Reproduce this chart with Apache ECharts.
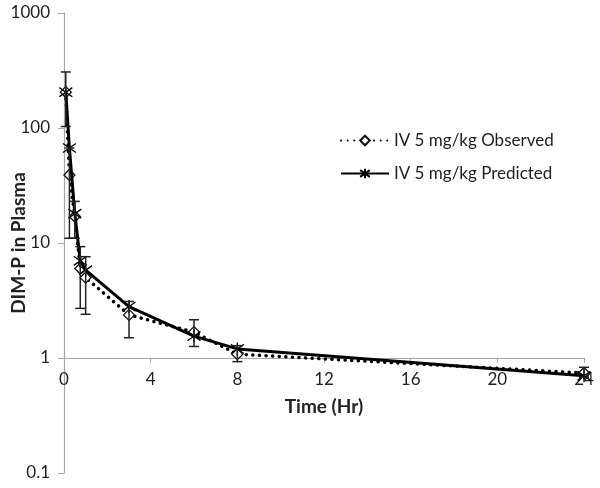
<!DOCTYPE html>
<html>
<head>
<meta charset="utf-8">
<script src="https://cdn.jsdelivr.net/npm/echarts@6/dist/echarts.min.js"></script>
<style>
html,body{margin:0;padding:0;background:#fff;}
#c{width:600px;height:488px;}
</style>
</head>
<body>
<div id="c"></div>
<script>
// Data
var times = [0.083, 0.25, 0.5, 0.75, 1, 3, 6, 8, 24];
var observed = [205, 39, 17, 6.0, 5.0, 2.37, 1.68, 1.08, 0.74];
var predicted = [205, 67, 18, 7.0, 5.8, 2.8, 1.55, 1.2, 0.70];
var obsLow  = [103, 11, 11, 2.7, 2.4, 1.5, 1.26, 0.93, 0.68];
var obsHigh = [307, 67, 23, 9.3, 7.6, 3.1, 2.15, 1.28, 0.83];
var yTicks = [0.1, 1, 10, 100, 1000];
var xTicks = [0, 4, 8, 12, 16, 20, 24];
var seriesNames = ['IV 5 mg/kg Observed', 'IV 5 mg/kg Predicted'];

var font = 'Lato, "Liberation Sans", sans-serif';
var obsData = times.map(function (t, i) { return [t, observed[i]]; });
var predData = times.map(function (t, i) { return [t, predicted[i]]; });
var errData = times.map(function (t, i) { return [t, obsLow[i], obsHigh[i]]; });

var starPath = 'path://M10 0 L10 20 M3 3 L17 17 M3 17 L17 3';

var chart = echarts.init(document.getElementById('c'), null, {renderer: 'canvas'});
chart.setOption({
  animation: false,
  backgroundColor: '#fff',
  textStyle: {fontFamily: font},
  grid: {left: 64, right: 16, top: 13, bottom: 15, outerBoundsMode: 'none', containLabel: false},
  legend: {
    orient: 'vertical',
    left: 335,
    top: 127,
    itemGap: 16,
    itemWidth: 48,
    itemHeight: 12,
    textStyle: {fontFamily: font, fontSize: 17, color: '#222'},
    data: seriesNames
  },
  xAxis: {
    type: 'value',
    min: xTicks[0],
    max: xTicks[xTicks.length - 1],
    interval: 4,
    offset: -115,
    name: 'Time (Hr)',
    nameLocation: 'middle',
    nameGap: 39,
    nameMoveOverlap: false,
    nameTextStyle: {fontFamily: font, fontSize: 19, fontWeight: 'bold', color: '#222'},
    axisLine: {lineStyle: {color: '#a6a6a6', width: 1.2}},
    axisTick: {show: true, length: 5, lineStyle: {color: '#a6a6a6'}},
    axisLabel: {fontFamily: font, fontSize: 17, color: '#222', margin: 13},
    splitLine: {show: false}
  },
  yAxis: {
    type: 'log',
    logBase: 10,
    min: yTicks[0],
    max: yTicks[yTicks.length - 1],
    name: 'DIM-P in Plasma',
    nameLocation: 'middle',
    nameGap: 36,
    nameMoveOverlap: false,
    nameTextStyle: {fontFamily: font, fontSize: 19, fontWeight: 'bold', color: '#222'},
    axisLine: {show: true, lineStyle: {color: '#a6a6a6', width: 1.2}},
    axisTick: {show: true, length: 6, lineStyle: {color: '#a6a6a6'}},
    axisLabel: {fontFamily: font, fontSize: 17, color: '#222', margin: 14,
      formatter: function (v) { return String(+v.toPrecision(3)); }},
    splitLine: {show: false}
  },
  series: [
    {
      name: seriesNames[0],
      type: 'line',
      data: obsData,
      z: 3,
      symbol: 'diamond',
      symbolSize: 11,
      showAllSymbol: true,
      lineStyle: {color: '#000', width: 3.5, type: [0.1, 6.5], cap: 'round'},
      itemStyle: {color: '#fff', borderColor: '#111', borderWidth: 1.3}
    },
    {
      name: seriesNames[1],
      type: 'line',
      data: predData,
      z: 4,
      symbol: starPath,
      symbolSize: 13,
      showAllSymbol: true,
      lineStyle: {color: '#000', width: 3},
      itemStyle: {color: '#000', borderColor: '#000', borderWidth: 1.3}
    },
    {
      name: 'err',
      type: 'custom',
      z: 5,
      silent: true,
      data: errData,
      renderItem: function (params, api) {
        var x = api.value(0);
        var lo = api.coord([x, api.value(1)]);
        var hi = api.coord([x, api.value(2)]);
        var w = 5;
        var st = {stroke: '#222', lineWidth: 1.5, fill: 'none'};
        return {
          type: 'group',
          children: [
            {type: 'line', shape: {x1: lo[0], y1: lo[1], x2: hi[0], y2: hi[1]}, style: st},
            {type: 'line', shape: {x1: lo[0] - w, y1: lo[1], x2: lo[0] + w, y2: lo[1]}, style: st},
            {type: 'line', shape: {x1: hi[0] - w, y1: hi[1], x2: hi[0] + w, y2: hi[1]}, style: st}
          ]
        };
      }
    }
  ]
});
</script>
</body>
</html>
